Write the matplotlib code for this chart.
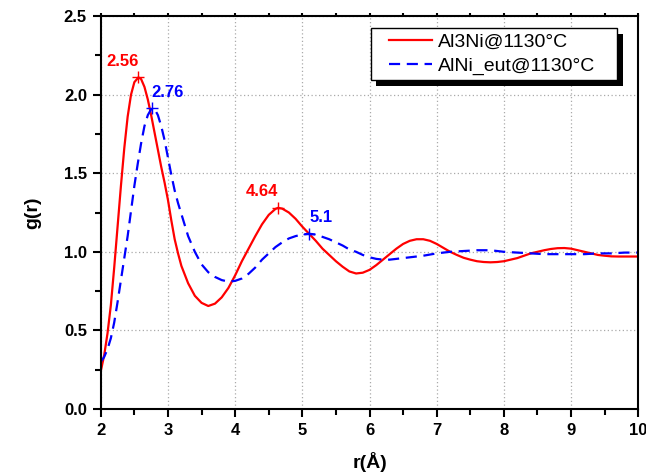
import matplotlib
matplotlib.use('Agg')
import matplotlib.pyplot as plt
from matplotlib.ticker import MultipleLocator, FormatStrFormatter
from matplotlib.patches import Rectangle

plt.rcParams['font.family'] = ['Liberation Sans', 'DejaVu Sans']

# Al3Ni @ 1130C (red)
r_red = [2.0, 2.05, 2.1, 2.15, 2.2, 2.25, 2.3, 2.35, 2.4, 2.45, 2.5, 2.56, 2.6, 2.65,
         2.7, 2.75, 2.8, 2.85, 2.9, 2.95, 3.0, 3.05, 3.1, 3.15, 3.2, 3.3, 3.4, 3.5,
         3.6, 3.7, 3.8, 3.9, 4.0, 4.1, 4.2, 4.3, 4.4, 4.5, 4.6, 4.64, 4.7, 4.8, 4.9,
         5.0, 5.1, 5.2, 5.3, 5.4, 5.5, 5.6, 5.7, 5.8, 5.9, 6.0, 6.1, 6.2, 6.3, 6.4,
         6.5, 6.6, 6.7, 6.8, 6.9, 7.0, 7.1, 7.2, 7.3, 7.4, 7.5, 7.6, 7.7, 7.8, 7.9,
         8.0, 8.1, 8.2, 8.3, 8.4, 8.5, 8.6, 8.7, 8.8, 8.9, 9.0, 9.1, 9.2, 9.3, 9.4,
         9.5, 9.6, 9.7, 9.8, 9.9, 10.0]
g_red = [0.24, 0.34, 0.48, 0.66, 0.90, 1.16, 1.42, 1.66, 1.86, 2.00, 2.08, 2.11, 2.10, 2.05,
         1.97, 1.87, 1.76, 1.65, 1.54, 1.44, 1.33, 1.20, 1.08, 0.99, 0.91, 0.80, 0.72, 0.675,
         0.655, 0.67, 0.71, 0.77, 0.85, 0.94, 1.02, 1.10, 1.175, 1.235, 1.273, 1.28, 1.275, 1.25, 1.21,
         1.16, 1.115, 1.07, 1.02, 0.98, 0.94, 0.905, 0.875, 0.862, 0.867, 0.885, 0.915, 0.95, 0.985, 1.02,
         1.05, 1.07, 1.08, 1.08, 1.07, 1.05, 1.025, 1.0, 0.98, 0.962, 0.95, 0.94, 0.935, 0.933, 0.935,
         0.94, 0.95, 0.96, 0.975, 0.99, 1.0, 1.01, 1.018, 1.023, 1.024, 1.02, 1.01, 1.0, 0.99, 0.98,
         0.975, 0.971, 0.97, 0.97, 0.97, 0.97]

# AlNi_eut @ 1130C (blue, dashed)
r_blue = [2.0, 2.05, 2.1, 2.15, 2.2, 2.25, 2.3, 2.35, 2.4, 2.45, 2.5, 2.55, 2.6, 2.65,
          2.7, 2.76, 2.8, 2.85, 2.9, 2.95, 3.0, 3.05, 3.1, 3.15, 3.2, 3.3, 3.4, 3.5,
          3.6, 3.7, 3.8, 3.9, 4.0, 4.1, 4.2, 4.3, 4.4, 4.5, 4.6, 4.7, 4.8, 4.9, 5.0,
          5.1, 5.2, 5.3, 5.4, 5.5, 5.6, 5.7, 5.8, 5.9, 6.0, 6.1, 6.2, 6.3, 6.4, 6.5,
          6.6, 6.8, 7.0, 7.2, 7.4, 7.6, 7.8, 8.0, 8.2, 8.4, 8.6, 8.8, 9.0, 9.2, 9.4,
          9.6, 9.8, 10.0]
g_blue = [0.30, 0.33, 0.38, 0.45, 0.55, 0.68, 0.82, 0.96, 1.10, 1.26, 1.42, 1.56, 1.69, 1.80,
          1.87, 1.915, 1.91, 1.87, 1.80, 1.71, 1.60, 1.49, 1.39, 1.31, 1.24, 1.10, 1.00, 0.92,
          0.87, 0.84, 0.82, 0.81, 0.815, 0.83, 0.86, 0.90, 0.95, 0.99, 1.03, 1.06, 1.085, 1.10, 1.11,
          1.115, 1.11, 1.095, 1.08, 1.06, 1.04, 1.015, 1.0, 0.98, 0.965, 0.955, 0.95, 0.95, 0.955, 0.96,
          0.965, 0.975, 0.99, 1.0, 1.005, 1.01, 1.01, 1.0, 0.995, 0.99, 0.985, 0.985, 0.985, 0.985, 0.99,
          0.99, 0.995, 0.995]

peaks_red = [(2.56, 2.11), (4.64, 1.28)]
peaks_blue = [(2.76, 1.915), (5.1, 1.115)]
peak_labels_red = ['2.56', '4.64']
peak_labels_blue = ['2.76', '5.1']

fig = plt.figure(figsize=(6.46, 4.76), dpi=100)
ax = fig.add_axes([0.156, 0.141, 0.832, 0.825])

ax.plot(r_red, g_red, color='red', lw=1.6, label='Al3Ni@1130°C')
ax.plot(r_blue, g_blue, color='blue', lw=1.6, dashes=(5, 3), label='AlNi_eut@1130°C')

for (px, py), t in zip(peaks_red, peak_labels_red):
    ax.plot(px, py, marker='+', color='red', ms=8, mew=1.0)
    ax.annotate(t, (px, py), xytext=(0, 6), textcoords='offset points',
                ha='right', va='bottom', color='red', fontsize=12, fontweight='bold')
for (px, py), t in zip(peaks_blue, peak_labels_blue):
    ax.plot(px, py, marker='+', color='blue', ms=8, mew=1.0)
    ax.annotate(t, (px, py), xytext=(0, 6), textcoords='offset points',
                ha='left', va='bottom', color='blue', fontsize=12, fontweight='bold')

ax.set_xlim(2, 10)
ax.set_ylim(0, 2.5)
ax.xaxis.set_major_locator(MultipleLocator(1))
ax.xaxis.set_minor_locator(MultipleLocator(0.5))
ax.yaxis.set_major_locator(MultipleLocator(0.5))
ax.yaxis.set_minor_locator(MultipleLocator(0.25))
ax.yaxis.set_major_formatter(FormatStrFormatter('%.1f'))

ax.tick_params(which='both', direction='out', width=1.5, top=True, right=False,
               labelsize=12, pad=4)
ax.tick_params(which='major', length=6)
ax.tick_params(which='minor', length=4)
for t in ax.xaxis.get_major_ticks() + ax.xaxis.get_minor_ticks():
    t.tick2line.set_markersize(2.5)
for lab in ax.get_xticklabels() + ax.get_yticklabels():
    lab.set_fontweight('bold')
for s in ax.spines.values():
    s.set_linewidth(1.5)

ax.grid(True, which='major', color='#aaaaaa', linestyle=(0, (1, 2)), lw=0.9)

ax.set_xlabel('r(Å)', fontsize=14, fontweight='bold', labelpad=10)
ax.set_ylabel('g(r)', fontsize=14, fontweight='bold', labelpad=16)

# legend box with a hard black drop shadow
box_x, box_y, box_w, box_h = 0.502, 0.837, 0.458, 0.134
ax.add_patch(Rectangle((box_x + 0.011, box_y - 0.016), box_w, box_h, transform=ax.transAxes,
                       facecolor='black', edgecolor='black', lw=0, zorder=4))
ax.add_patch(Rectangle((box_x, box_y), box_w, box_h, transform=ax.transAxes,
                       facecolor='white', edgecolor='black', lw=1.0, zorder=4.5))
leg = ax.legend(loc='center left', bbox_to_anchor=(0.536, box_y + box_h / 2), fontsize=14,
                frameon=False, handlelength=2.2, borderpad=0, labelspacing=0.3,
                handletextpad=0.35, borderaxespad=0)
leg.set_zorder(5)

fig.savefig('out.png', dpi=100)
